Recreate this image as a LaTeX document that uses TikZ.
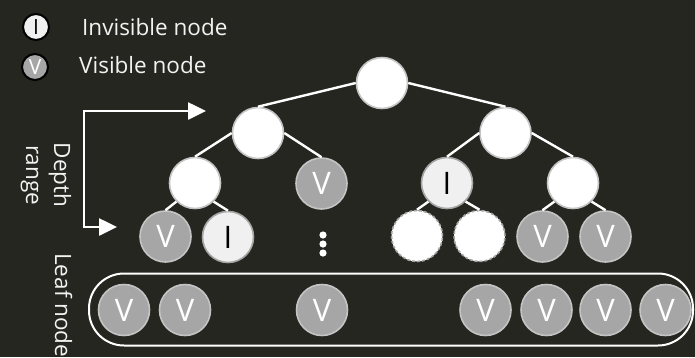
\documentclass[tikz,border=0pt]{standalone}
\usepackage{fontspec}
\setmainfont{Open Sans}
\usetikzlibrary{arrows.meta}

\definecolor{bg}{RGB}{38,38,33}
\definecolor{ink}{RGB}{242,242,242}
\definecolor{midgray}{RGB}{166,166,166}
\definecolor{offwhite}{RGB}{240,240,240}
\definecolor{rimlight}{RGB}{196,196,196}
\definecolor{rimgray}{RGB}{165,165,165}

\begin{document}
\begin{tikzpicture}[x=1pt,y=-1pt,
  treenode/.style={circle, minimum size=51pt, inner sep=0pt, line width=1.6pt,
    font=\fontsize{31}{31}\selectfont},
  blank/.style={treenode, fill=white, draw=rimlight},
  hidden/.style={treenode, fill=offwhite, draw=rimgray, text=black},
  shown/.style={treenode, fill=midgray, draw=rimlight, text=white},
  ghost/.style={treenode, fill=white, draw=rimgray, dash pattern=on 3pt off 2pt},
  keynode/.style={circle, minimum size=26pt, inner sep=0pt, line width=2pt, draw=black,
    font=\fontsize{21}{21}\selectfont},
  caption/.style={inner sep=0pt, text=ink, font=\fontsize{22.5}{28}\selectfont},
  link/.style={draw=white, line width=2.4pt},
  guide/.style={draw=white, line width=2.6pt,
    {Triangle[length=18pt,width=17pt]}-{Triangle[length=18pt,width=17pt]}},
]
% canvas
\fill[bg] (0,0) rectangle (695,357);
\useasboundingbox (0,0) rectangle (695,357);

% legend
\node[keynode, fill=offwhite, text=black] (keyI) at (36,27) {I};
\node[keynode, fill=midgray, text=white] (keyV) at (35,67) {V};
\node[caption, anchor=base west] (keyItext) at (82,35.5) {Invisible node};
\node[caption, anchor=base west] (keyVtext) at (79,73.5) {Visible node};

% side labels
\node[caption, rotate=-90, align=center] (depthtext) at (46,175) {Depth\\range};
\node[caption, rotate=-90, anchor=base west] (leaftext) at (55,253) {Leaf node};

% depth range bracket
\coordinate (toptip) at (206,111);
\coordinate (topbend) at (84,111);
\coordinate (lowbend) at (84,227);
\coordinate (lowtip) at (117,227);
\draw[guide] (toptip) -- (topbend) -- (lowbend) -- (lowtip);

% tree
\node[blank] (root) at (382,83) {};
\node[blank] (l1a) at (258,133) {};
\node[blank] (l1b) at (505.5,133) {};
\node[blank] (l2a) at (195,183) {};
\node[shown] (l2b) at (321.5,183.5) {V};
\node[hidden] (l2c) at (447,183) {I};
\node[blank] (l2d) at (573,183) {};
\node[shown] (l3a) at (165.5,236.5) {V};
\node[hidden] (l3b) at (228,237) {I};
\node[ghost] (l3c) at (417,236) {};
\node[ghost] (l3d) at (479.5,236) {};
\node[shown] (l3e) at (542.5,236.5) {V};
\node[shown] (l3f) at (605.5,236.5) {V};

\draw[link] (root.west) -- (l1a.north);
\draw[link] (root.east) -- (l1b.north);
\draw[link] (l1a.west) -- (l2a.north);
\draw[link] (l1a.east) -- (l2b.north);
\draw[link] (l1b.west) -- (l2c.north);
\draw[link] (l1b.east) -- (l2d.north);
\draw[link] (l2a.south west) -- (l3a.north);
\draw[link] (l2a.south east) -- (l3b.north);
\draw[link] (l2c.south west) -- (l3c.north);
\draw[link] (l2c.south east) -- (l3d.north);
\draw[link] (l2d.south west) -- (l3e.north);
\draw[link] (l2d.south east) -- (l3f.north);

% vertical ellipsis below the visible node
\foreach \yy in {235,244,253} \fill[white] (323,\yy) circle (3.6pt);

% leaf row
\node[draw=white, line width=2pt, rounded corners=35pt, minimum width=604pt,
  minimum height=72pt, inner sep=0pt] (leafbox) at (391,309.5) {};
\node[shown] (f1) at (124,310) {V};
\node[shown] (f2) at (185,310) {V};
\node[shown] (f3) at (322,310) {V};
\node[shown] (f4) at (485.5,310) {V};
\node[shown] (f5) at (546.5,310) {V};
\node[shown] (f6) at (605.5,310) {V};
\node[shown] (f7) at (665.5,310) {V};
\end{tikzpicture}
\end{document}
